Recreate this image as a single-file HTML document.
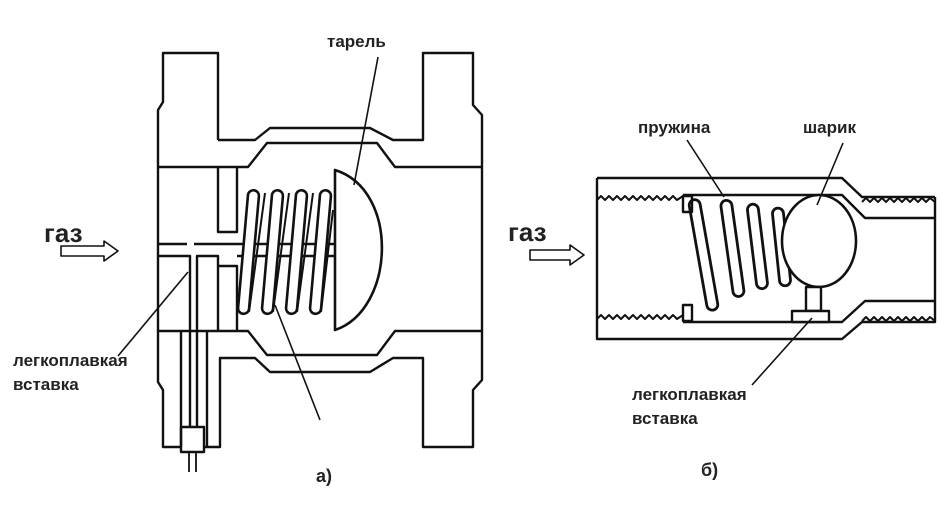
<!DOCTYPE html>
<html><head><meta charset="utf-8"><style>
html,body{margin:0;padding:0;background:#fff;}
svg{display:block}
text{font-family:"Liberation Sans","DejaVu Sans",sans-serif;font-weight:bold;fill:#222;}
</style></head><body>
<svg width="945" height="505" viewBox="0 0 945 505" xmlns="http://www.w3.org/2000/svg">
<g fill="none" stroke="#111" stroke-width="2.4" stroke-linejoin="round">
<!-- LEFT FIGURE -->
<path d="M218,140 L218,53 L163,53 L163,102 L158,110 L158,382 L163,390 L163,447 L181,447"/>
<path d="M204,447 L220,447 L220,358 L255,358 L270,372 L370,372 L393,358 L423,358 L423,447 L473,447 L473,390 L482,380 L482,115 L473,105 L473,53 L423,53 L423,140 L393,140 L370,128 L270,128 L255,140 L218,140"/>
<path d="M158,167 L248,167 L267,143 L377,143 L395,167 L482,167"/>
<path d="M158,331 L248,331 L267,355 L377,355 L395,331 L482,331"/>
<path d="M218,167 L218,232 L237,232 L237,167"/>
<path d="M237,331 L237,266 L218,266 L218,331"/>
<path d="M158,244 L187,244 M194,244 L335,244"/>
<path d="M158,256 L190,256 L190,427 M197,427 L197,256 L218,256 L218,266"/>
<path d="M237,256 L335,256"/>
<path d="M181,331 L181,447 M207,331 L207,447"/>
<rect x="181" y="427" width="23" height="25"/>
<path d="M189,452 L189,472 M196,452 L196,472" stroke-width="1.8"/>
<!-- spring loops -->
<g stroke-width="2.6">
<rect x="243" y="190" width="11" height="124" rx="5.5" transform="rotate(5 248 252)" fill="#fff"/>
<rect x="267" y="190" width="11" height="124" rx="5.5" transform="rotate(5 272 252)" fill="#fff"/>
<rect x="291" y="190" width="11" height="124" rx="5.5" transform="rotate(5 296 252)" fill="#fff"/>
<rect x="315" y="190" width="11" height="124" rx="5.5" transform="rotate(5 320 252)" fill="#fff"/>
<path d="M249,312 L265,193 M273,312 L289,193 M297,312 L313,193 M321,312 L333,210" stroke-width="2"/>
</g>
<path d="M335,170 L335,330 C395,310 400,190 335,170 Z" fill="#fff" stroke-width="2.6"/>
<path d="M378,57 L354,185 M188,272 L118,356 M275,305 L320,420" stroke-width="1.6"/>
<path d="M61,246 L104,246 L104,241 L118,251 L104,261 L104,256 L61,256 Z" stroke-width="1.6"/>

<!-- RIGHT FIGURE -->
<path d="M597,178 L842,178 L862,197 L935,197 M597,178 L597,339 L842,339 L862,322 L935,322 L935,197"/>
<path d="M683,195 L842,195 L865,218 L935,218"/>
<path d="M683,322 L842,322 L865,301 L935,301"/>
<path d="M597,200 l4,-4 l4,4 l4,-4 l4,4 l4,-4 l4,4 l4,-4 l4,4 l4,-4 l4,4 l4,-4 l4,4 l4,-4 l4,4 l4,-4 l4,4 l4,-4 l4,4 l4,-4 l4,4 l6,-4 L683,196" stroke-width="2"/>
<path d="M597,319 l4,-4 l4,4 l4,-4 l4,4 l4,-4 l4,4 l4,-4 l4,4 l4,-4 l4,4 l4,-4 l4,4 l4,-4 l4,4 l4,-4 l4,4 l4,-4 l4,4 l4,-4 l4,4 l6,-4 L683,318" stroke-width="2"/>
<path d="M862,202 l4,-4 l4,4 l4,-4 l4,4 l4,-4 l4,4 l4,-4 l4,4 l4,-4 l4,4 l4,-4 l4,4 l4,-4 l4,4 l4,-4 l4,4 l4,-4 l5,4" stroke-width="2"/>
<path d="M862,321 l4,-4 l4,4 l4,-4 l4,4 l4,-4 l4,4 l4,-4 l4,4 l4,-4 l4,4 l4,-4 l4,4 l4,-4 l4,4 l4,-4 l4,4 l4,-4 l5,4" stroke-width="2"/>
<rect x="683" y="196" width="9" height="16"/>
<rect x="683" y="305" width="9" height="16"/>
<g stroke-width="2.8">
<rect x="698" y="199" width="11" height="112" rx="5.5" transform="rotate(-10 703 255)"/>
<rect x="727" y="200" width="11" height="97" rx="5.5" transform="rotate(-8 732 249)"/>
<rect x="752" y="204" width="11" height="85" rx="5.5" transform="rotate(-7 757 247)"/>
<rect x="776" y="208" width="11" height="78" rx="5.5" transform="rotate(-6 781 247)"/>
</g>
<ellipse cx="819" cy="241" rx="37" ry="46" fill="#fff" stroke-width="2.6"/>
<rect x="806" y="287" width="15" height="24" fill="#fff"/>
<rect x="792" y="311" width="37" height="11" fill="#fff"/>
<path d="M687,140 L724,197 M843,143 L817,205 M812,318 L752,385" stroke-width="1.6"/>
<path d="M530,250 L570,250 L570,245 L584,255 L570,265 L570,260 L530,260 Z" stroke-width="1.6"/>
</g>
<g>
<text x="44" y="242" font-size="26">газ</text>
<text x="327" y="47" font-size="17">тарель</text>
<text x="13" y="366" font-size="17">легкоплавкая</text>
<text x="13" y="390" font-size="17">вставка</text>
<text x="316" y="482" font-size="18">а)</text>
<text x="508" y="241" font-size="26">газ</text>
<text x="638" y="133" font-size="17">пружина</text>
<text x="803" y="133" font-size="17">шарик</text>
<text x="632" y="400" font-size="17">легкоплавкая</text>
<text x="632" y="424" font-size="17">вставка</text>
<text x="701" y="476" font-size="18">б)</text>
</g>
</svg>
</body></html>
